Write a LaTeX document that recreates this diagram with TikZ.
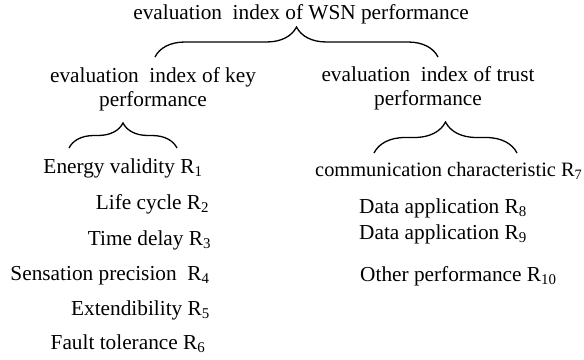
\documentclass[tikz,border=0pt]{standalone}
\usepackage{fontspec}
\setmainfont{Liberation Serif}
\usetikzlibrary{decorations.pathreplacing}
\tikzstyle{heading}=[font=\fontsize{21.3}{24}\selectfont, inner sep=0pt, anchor=base]
\tikzstyle{subheading}=[heading, align=center]
\tikzstyle{indexitem}=[heading]
\tikzset{bracket/.style={decorate, decoration={brace, amplitude=#1}, line width=1.3pt}}
\tikzset{x=1pt}
\tikzset{y=-1pt}
\begin{document}
\begin{tikzpicture}
  \useasboundingbox (0,0) rectangle (584,359);
  \draw (301,19) node[heading] (WSN) {evaluation~ index of WSN performance};

  \draw (153,106.7) node[subheading] (Key) {evaluation~ index of key\\performance};
  \draw (428,105) node[subheading] (Trust) {evaluation~ index of trust\\performance};

  %% braces
  \coordinate (WSNleft) at (155,57);
  \coordinate (WSNright) at (438,57);
  \coordinate (Keyleft) at (69,148);
  \coordinate (Keyright) at (177,148);
  \coordinate (Trustleft) at (374,153);
  \coordinate (Trustright) at (517,153);
  \draw[bracket=30pt] (WSNleft) -- (WSNright);
  \draw[bracket=25pt] (Keyleft) -- (Keyright);
  \draw[bracket=31pt] (Trustleft) -- (Trustright);

  %% key performance
  \draw (123,173.3) node[indexitem] (R1) {Energy validity R\textsubscript{1}};
  \draw (152.5,209) node[indexitem] (R2) {Life cycle R\textsubscript{2}};
  \draw (149.5,245) node[indexitem] (R3) {Time delay R\textsubscript{3}};
  \draw (110,280.7) node[indexitem] (R4) {Sensation precision~ R\textsubscript{4}};
  \draw (140.5,315) node[indexitem] (R5) {Extendibility R\textsubscript{5}};
  \draw (128,349.3) node[indexitem] (R6) {Fault tolerance R\textsubscript{6}};

  %% trust performance
  \draw (315,176) node[indexitem,anchor=base west,font=\fontsize{20.4}{24}\selectfont] (R7) {communication characteristic R\textsubscript{7}};
  \draw (359,213) node[indexitem,anchor=base west] (R8) {Data application R\textsubscript{8}};
  \draw (359,239) node[indexitem,anchor=base west] (R9) {Data application R\textsubscript{9}};
  \draw (360,281) node[indexitem,anchor=base west] (R10) {Other performance R\textsubscript{10}};
\end{tikzpicture}
\end{document}
